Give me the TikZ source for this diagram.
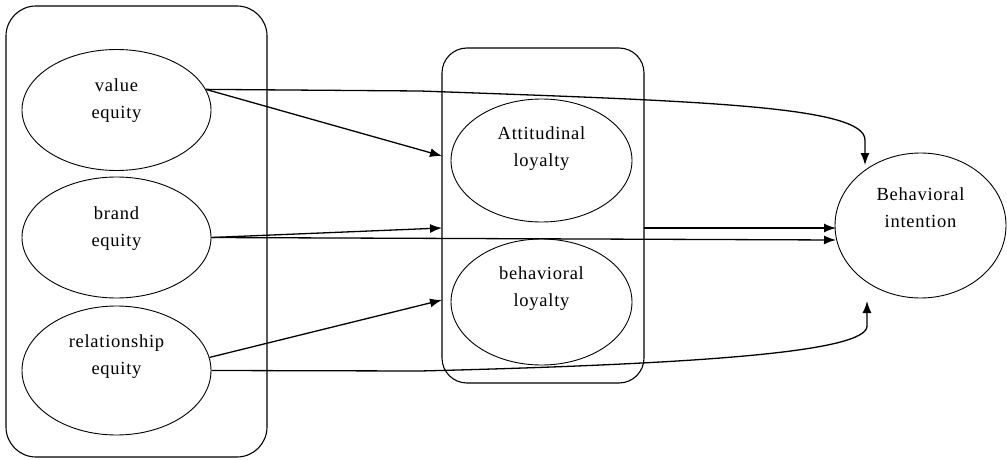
\documentclass[tikz,border=0pt]{standalone}
\usepackage{fontspec}
\setmainfont{Liberation Serif}[LetterSpace=4]
\usetikzlibrary{shapes.geometric,arrows.meta}
\begin{document}
\begin{tikzpicture}[x=1pt,y=-1pt,
  box/.style={draw,line width=1.1pt,rounded corners=#1,inner sep=0pt},
  oval/.style={draw,ellipse,line width=0.9pt,inner sep=0pt},
  lbl/.style={align=center,font=\fontsize{18.5}{27}\selectfont,inner sep=0pt},
  conn/.style={line width=1.3pt,-{Latex[length=12pt,width=9pt]}},
  plain/.style={line width=1.3pt}]
\useasboundingbox (0,0) rectangle (1007,460);
% groups
\node[box=30pt,minimum width=261pt,minimum height=451pt] (leftbox) at (136.5,231.5) {};
\node[box=25pt,minimum width=202pt,minimum height=335pt] (midbox) at (543,215.5) {};
% ellipses
\node[oval,minimum width=189pt,minimum height=121pt] (ve) at (116.5,110) {};
\node[oval,minimum width=189pt,minimum height=121pt] (be) at (116.5,237.5) {};
\node[oval,minimum width=189pt,minimum height=129pt] (re) at (116.5,370.5) {};
\node[oval,minimum width=181pt,minimum height=123pt] (al) at (541.5,160.5) {};
\node[oval,minimum width=181pt,minimum height=126pt] (bl) at (541.5,302) {};
\node[oval,minimum width=171pt,minimum height=145pt] (bi) at (920.5,225.5) {};
% labels
\node[lbl] (vet) at (116.5,101) {value\\equity};
\node[lbl] (bet) at (116.5,229) {brand\\equity};
\node[lbl] (ret) at (116.5,357) {relationship\\equity};
\node[lbl] (alt) at (541.5,149) {Attitudinal\\loyalty};
\node[lbl] (blt) at (541.5,289) {behavioral\\loyalty};
\node[lbl] (bit) at (920.5,208) {Behavioral\\intention};
% connector end points
\coordinate (a1) at (442,156);
\coordinate (a2) at (442,228);
\coordinate (a3) at (442,300);
\coordinate (m1) at (644,228);
\coordinate (b1) at (836,228);
\coordinate (b2) at (836,240);
\coordinate (btop) at (865,165);
\coordinate (bbot) at (867,301);
% connectors
\draw[conn] (ve.13) -- (a1);
\draw[conn] (ve.13) -- (420,91) .. controls (700,101) and (865,106) .. (865,140) -- (btop);
\draw[conn] (be.east) -- (a2);
\draw[conn] (be.east) -- (b2);
\draw[conn] (m1) -- (b1);
\draw[conn] (re.8) -- (a3);
\draw[conn] (re.east) -- (420,371) .. controls (700,364) and (867,352) .. (867,326) -- (bbot);
\end{tikzpicture}
\end{document}
